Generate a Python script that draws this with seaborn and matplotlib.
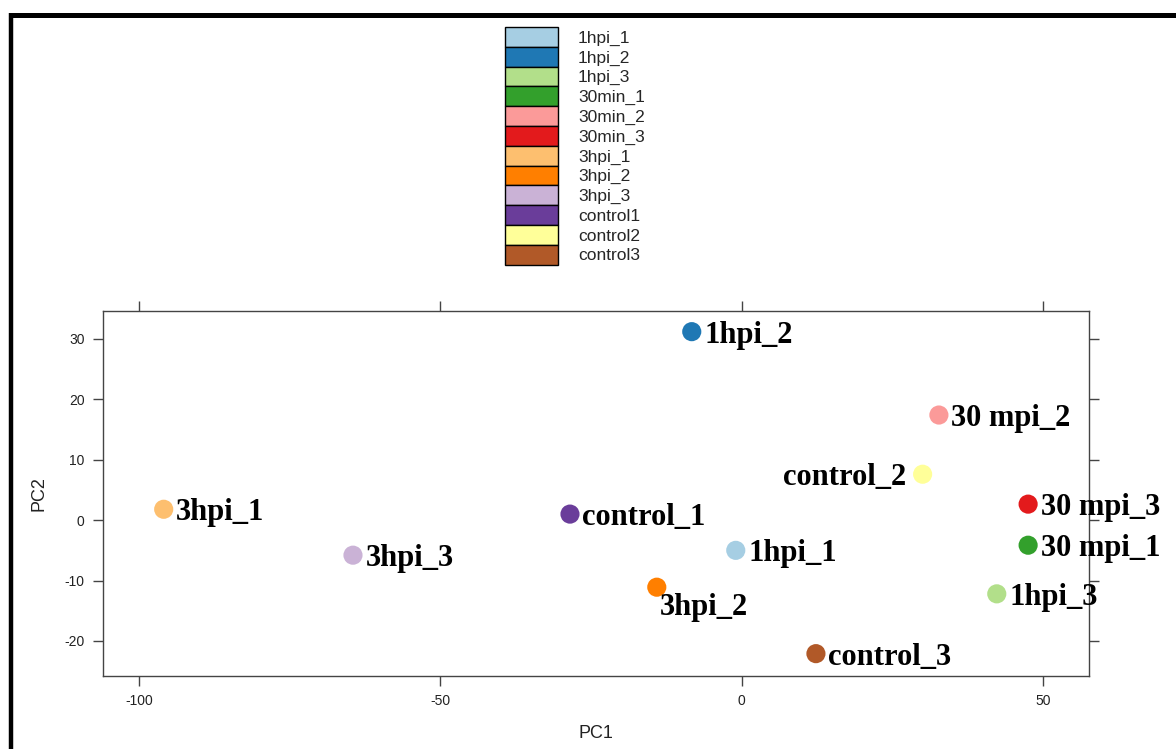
import matplotlib
matplotlib.use("Agg")
import matplotlib.pyplot as plt
from matplotlib.patches import Patch
from matplotlib.lines import Line2D
import seaborn as sns
import pandas as pd

# ---- data ----
samples = ["1hpi_1", "1hpi_2", "1hpi_3", "30min_1", "30min_2", "30min_3",
           "3hpi_1", "3hpi_2", "3hpi_3", "control1", "control2", "control3"]
point_labels = ["1hpi_1", "1hpi_2", "1hpi_3", "30 mpi_1", "30 mpi_2", "30 mpi_3",
                "3hpi_1", "3hpi_2", "3hpi_3", "control_1", "control_2", "control_3"]
pc1 = [-1.0, -8.3, 42.3, 47.5, 32.7, 47.5, -95.9, -14.1, -64.5, -28.5, 30.0, 12.3]
pc2 = [-5.0, 31.2, -12.2, -4.15, 17.4, 2.65, 1.8, -11.1, -5.8, 1.0, 7.6, -22.1]
x_ticks = [-100, -50, 0, 50]
y_ticks = [-20, -10, 0, 10, 20, 30]

df = pd.DataFrame({"PC1": pc1, "PC2": pc2, "sample": samples, "label": point_labels})
colors = sns.color_palette("Paired", len(samples))

# label placement (style)
placement = {"control_2": "left", "3hpi_2": "below"}

sns.set_style("white")
plt.rcParams["font.family"] = ["Liberation Sans", "DejaVu Sans"]
plt.rcParams["axes.unicode_minus"] = False

W, H = 1176, 749
fig = plt.figure(figsize=(W / 100, H / 100), dpi=100)
ax = fig.add_axes([103 / W, 1 - 676 / H, (1089 - 103) / W, (676 - 311) / H])

sns.scatterplot(data=df, x="PC1", y="PC2", hue="sample", hue_order=samples,
                palette=colors, s=190, linewidth=0, legend=False, ax=ax, zorder=3)

for _, r in df.iterrows():
    pos = placement.get(r["label"], "right")
    if pos == "right":
        off, ha = (9, -8), "left"
    elif pos == "left":
        off, ha = (-12, -8), "right"
    else:
        off, ha = (2, -20), "left"
    ax.annotate(r["label"], (r["PC1"], r["PC2"]), xytext=off, textcoords="offset points",
                ha=ha, va="baseline", fontsize=22, fontweight="bold",
                family=["Liberation Serif", "DejaVu Serif"], color="black", zorder=4,
                annotation_clip=False)

ax.set_xlim(-105.97, 57.6)
ax.set_ylim(-25.8, 34.62)
ax.set_xticks(x_ticks)
ax.set_yticks(y_ticks)
ax.set_xlabel("PC1", fontsize=13, labelpad=12, color="#222222")
ax.set_ylabel("PC2", fontsize=13, labelpad=12, color="#222222")
for sp in ax.spines.values():
    sp.set_color("#444444")
    sp.set_linewidth(1.0)
ax.tick_params(direction="out", length=7.2, width=1.0, color="#444444",
               top=True, right=True, bottom=True, left=True,
               labeltop=False, labelright=False, labelsize=10, labelcolor="#222222", pad=6)
ax.set_facecolor("white")

# legend
handles = [Patch(facecolor=c, edgecolor="black", linewidth=1.0) for c in colors]
fs = 12.5
fspx = fs * 100 / 72
row_px = 19.8
hh = (row_px / fspx - 0.245) / 0.65
fig.legend(handles, samples, loc="upper left", bbox_to_anchor=(505 / W, 1 - 27 / H),
           frameon=False, fontsize=fs, handlelength=53 / fspx,
           handleheight=hh, labelspacing=0, borderpad=0,
           borderaxespad=0, handletextpad=1.15)

# thick outer frame (top and left)
fig.add_artist(Line2D([8.5 / W, 1.0], [1 - 15 / H, 1 - 15 / H], transform=fig.transFigure,
                      color="black", linewidth=3.6, solid_capstyle="butt"))
fig.add_artist(Line2D([10.5 / W, 10.5 / W], [1 - 13 / H, 0.0], transform=fig.transFigure,
                      color="black", linewidth=3.2, solid_capstyle="butt"))

fig.savefig("out.png", dpi=100, facecolor="white")
